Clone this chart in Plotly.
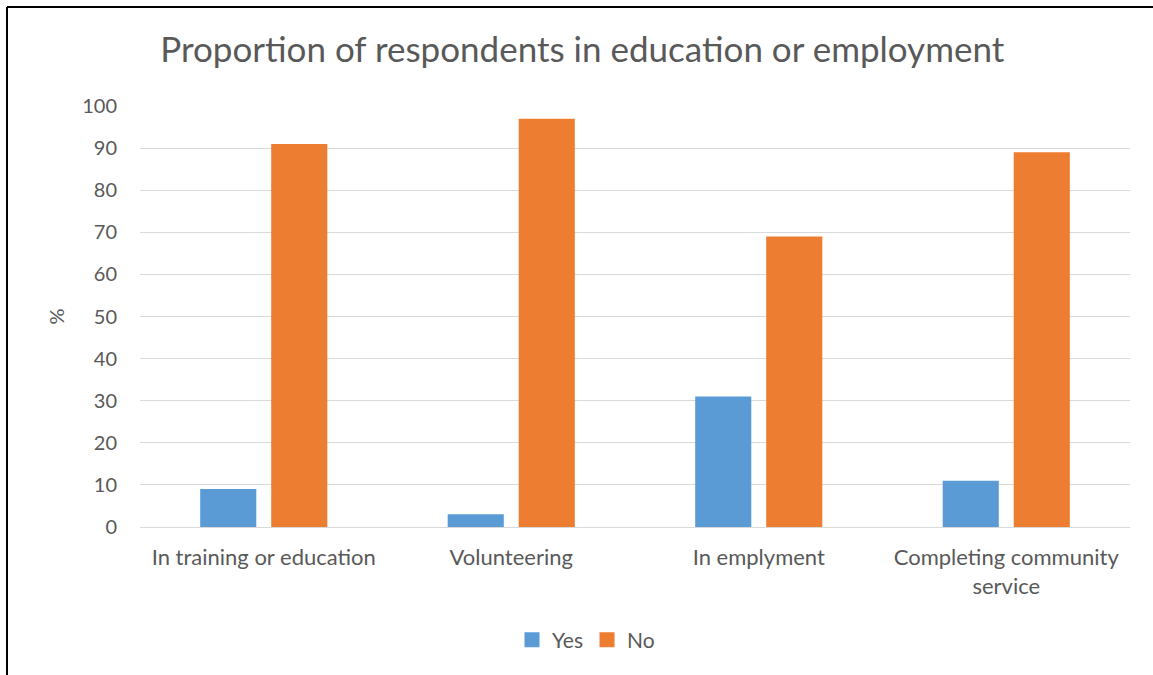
import plotly.graph_objects as go

categories = ["In training or education", "Volunteering", "In emplyment",
              "Completing community<br>service"]
yes_values = [9, 3, 31, 11]
no_values = [91, 97, 69, 89]
y_ticks = [0, 10, 20, 30, 40, 50, 60, 70, 80, 90, 100]

text_color = "#595959"
font_family = "Lato, 'Open Sans', sans-serif"
yes_color = "#5B9BD5"
no_color = "#ED7D31"

fig = go.Figure()
fig.add_trace(go.Bar(name="Yes", x=categories, y=yes_values, showlegend=False,
                     marker=dict(color=yes_color, line=dict(width=0))))
fig.add_trace(go.Bar(name="No", x=categories, y=no_values, showlegend=False,
                     marker=dict(color=no_color, line=dict(width=0))))
# square legend swatches
for name, color in (("Yes", yes_color), ("No", no_color)):
    fig.add_trace(go.Scatter(name=name, x=[None], y=[None], mode="markers",
                             marker=dict(symbol="square", size=15, color=color)))

W, H = 1153, 675
L, R, T, B = 140, 23, 106, 148

fig.update_layout(
    width=W, height=H,
    margin=dict(l=L, r=R, t=T, b=B),
    paper_bgcolor="white", plot_bgcolor="white",
    barmode="group", bargap=0.426, bargroupgap=0.21,
    font=dict(family=font_family, color=text_color, size=20),
    title=dict(text="Proportion of respondents in education or employment",
               x=0.505, xanchor="center", y=1 - 50 / H, yanchor="middle",
               font=dict(size=35, color=text_color, family=font_family)),
    xaxis=dict(showgrid=False, showline=False, ticks="",
               ticklabelstandoff=15,
               tickfont=dict(size=22, color=text_color)),
    yaxis=dict(range=[0, 100], tickvals=y_ticks, showgrid=True,
               gridcolor="#D9D9D9", gridwidth=1, zeroline=True,
               zerolinecolor="#D9D9D9", zerolinewidth=1, showline=False,
               ticks="", ticklabelstandoff=22,
               tickfont=dict(size=20, color=text_color),
               title=dict(text="%", standoff=12,
                          font=dict(size=20, color=text_color))),
    legend=dict(orientation="h", x=(587 - L) / (W - L - R), xanchor="center",
                y=-(640 - 527) / (H - T - B), yanchor="middle",
                font=dict(size=21, color=text_color),
                itemwidth=30, traceorder="normal",
                entrywidth=30, entrywidthmode="pixels"),
    showlegend=True,
)

# frame edges along the top and left of the chart area
fx0 = (7 - L) / (W - L - R)
fx1 = (W + 5 - L) / (W - L - R)
fy_top = 1 + (T - 7) / (H - T - B)
fy_bot = -(H + 5 - (H - B)) / (H - T - B)
fig.add_shape(type="line", xref="paper", yref="paper", x0=fx0, x1=fx1,
              y0=fy_top, y1=fy_top, line=dict(color="black", width=2))
fig.add_shape(type="line", xref="paper", yref="paper", x0=fx0, x1=fx0,
              y0=fy_bot, y1=fy_top, line=dict(color="black", width=2))

fig.write_html("out.html")
